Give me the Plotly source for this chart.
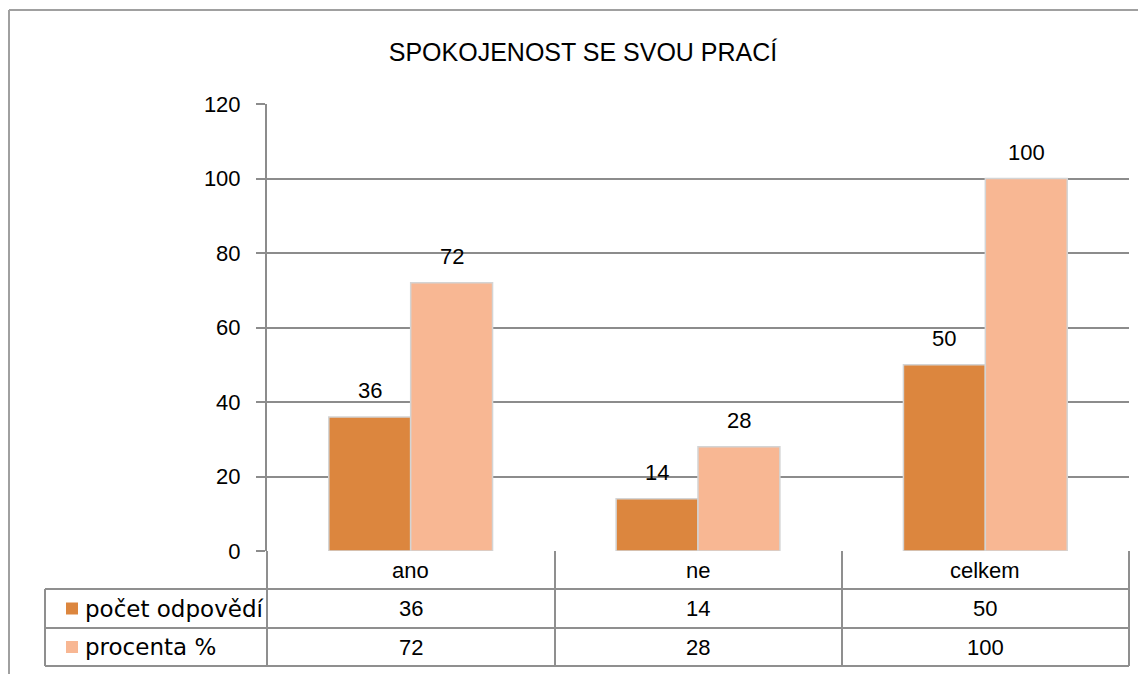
import plotly.graph_objects as go

categories = ["ano", "ne", "celkem"]
series_names = ["počet odpovědí", "procenta %"]
pocet = [36, 14, 50]
procenta = [72, 28, 100]
y_ticks = [0, 20, 40, 60, 80, 100, 120]
title_text = "SPOKOJENOST SE SVOU PRACÍ"

colors = ["#DC863E", "#F8B793"]
series_values = [pocet, procenta]

W, H = 1146, 674
OFF = 8  # page body margin compensation
L, R, T, B = 267 - OFF, 1129 - OFF, 104 - OFF, 551 - OFF  # plot area in px


def px(xp):
    return (xp - OFF - L) / (R - L)


def py(yp):
    return (B - (yp - OFF)) / (B - T)


fig = go.Figure()
for name, vals, col in zip(series_names, series_values, colors):
    fig.add_trace(go.Bar(
        x=categories, y=vals, name=name,
        marker=dict(color=col, line=dict(color="#d4d4d4", width=1.5)),
        showlegend=False, hoverinfo="skip",
    ))

FONT = "Liberation Sans, Arial, sans-serif"
annotations = []
# data labels
offsets = [-41, 41]
for vals, off in zip(series_values, offsets):
    for c, v in zip(categories, vals):
        annotations.append(dict(
            x=c, y=v, xref="x", yref="y", text=str(v), showarrow=False,
            xshift=off, yshift=26, yanchor="middle",
            font=dict(family=FONT, size=22, color="#000"),
        ))

# table header row (categories)
for c in categories:
    annotations.append(dict(
        x=c, y=py(570), xref="x", yref="paper", text=c, showarrow=False,
        yanchor="middle", font=dict(family=FONT, size=22, color="#000"),
    ))

# table rows
row_centers = [608.5, 647]
for name, vals, col, rc in zip(series_names, series_values, colors, row_centers):
    annotations.append(dict(
        x=px(83), y=py(rc), xref="paper", yref="paper", text=name, showarrow=False,
        xanchor="left", yanchor="middle",
        font=dict(family="DejaVu Sans, sans-serif", size=23, color="#000"),
    ))
    for c, v in zip(categories, vals):
        annotations.append(dict(
            x=c, y=py(rc), xref="x", yref="paper", text=str(v), showarrow=False,
            yanchor="middle", font=dict(family=FONT, size=22, color="#000"),
        ))

shapes = []
LC = "#8f8f8f"
lw = 2
# horizontal table lines
for yv in [589, 628, 666]:
    shapes.append(dict(type="line", xref="paper", yref="paper", x0=px(45), x1=1, y0=py(yv), y1=py(yv), line=dict(color=LC, width=lw)))
# vertical table lines
for xv in [267, 555, 842, 1129]:
    shapes.append(dict(type="line", xref="paper", yref="paper", x0=px(xv), x1=px(xv), y0=0, y1=py(666), line=dict(color=LC, width=lw)))
shapes.append(dict(type="line", xref="paper", yref="paper", x0=px(45), x1=px(45), y0=py(589), y1=py(666), line=dict(color=LC, width=lw)))
# legend squares
for col, rc in zip(colors, row_centers):
    shapes.append(dict(type="rect", xref="paper", yref="paper", x0=px(66), x1=px(78), y0=py(rc + 6), y1=py(rc - 6), line=dict(width=0), fillcolor=col))
# outer frame
shapes.append(dict(type="line", xref="paper", yref="paper", x0=px(9), x1=px(1160), y0=py(10), y1=py(10), line=dict(color="#a0a0a0", width=2)))
shapes.append(dict(type="line", xref="paper", yref="paper", x0=px(9), x1=px(9), y0=py(10), y1=py(690), line=dict(color="#a0a0a0", width=2)))

fig.update_layout(
    width=W, height=H,
    margin=dict(l=L, r=W - R, t=T, b=H - B),
    paper_bgcolor="white", plot_bgcolor="white",
    barmode="group", bargap=0.43, bargroupgap=0,
    title=dict(text=title_text, x=(583 - OFF) / W, xanchor="center", y=1 - (52 - OFF) / H, yanchor="middle",
               font=dict(family=FONT, size=25, color="#000")),
    xaxis=dict(range=[-0.5, 2.5], showticklabels=False, showgrid=False, zeroline=False,
               showline=False, ticks=""),
    yaxis=dict(range=[0, 120], tickvals=y_ticks, ticks="outside", ticklen=9, tickwidth=2,
               tickcolor="#8c8c8c", gridcolor="#8c8c8c", gridwidth=2, showline=True,
               linecolor="#8c8c8c", linewidth=2, zeroline=False, ticklabelstandoff=11,
               tickfont=dict(family=FONT, size=22, color="#000")),
    annotations=annotations, shapes=shapes,
    font=dict(family=FONT),
)

fig.write_html("out.html")
